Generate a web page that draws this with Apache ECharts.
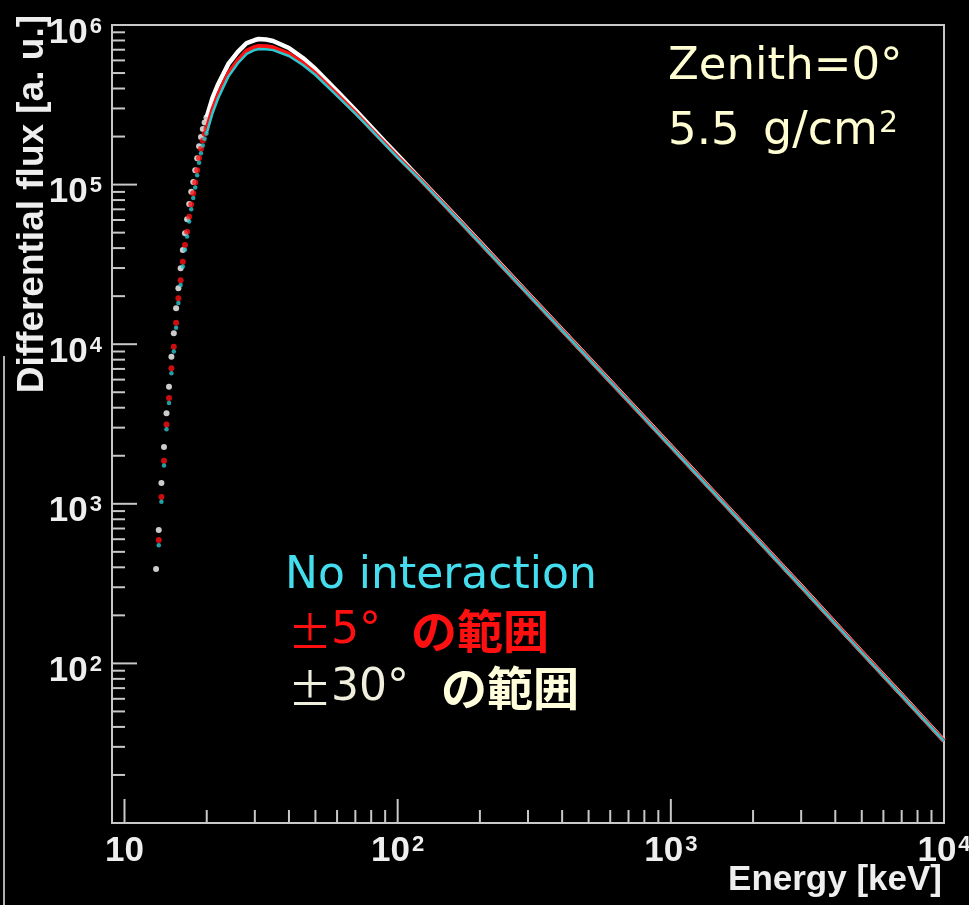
<!DOCTYPE html>
<html>
<head>
<meta charset="utf-8">
<script src="https://cdn.jsdelivr.net/npm/echarts@6/dist/echarts.min.js"></script>
<style>
  html, body { margin: 0; padding: 0; background: #000; }
  #chart { width: 969px; height: 905px; }
</style>
</head>
<body>
<div id="chart"></div>
<script>
// Energy bins [keV] of the low-energy rise, drawn as separate markers
const dotEnergy = [13.05, 13.35, 13.65, 13.95, 14.25, 14.55, 14.85, 15.15, 15.45, 15.75, 16.05, 16.35,
                   16.65, 16.95, 17.25, 17.55, 17.85, 18.15, 18.45, 18.75, 19.05, 19.35, 19.65, 19.95];
// Differential flux [a.u.] in those bins
const dots30 = [390, 685, 1350, 2270, 3690, 5420, 8350, 11700, 16800, 22400, 29900, 38900,
                49500, 60600, 75600, 90300, 104000, 123000, 146000, 174000, 199000, 223000, 245000, 263000];
const dots5 = [null, 593, 1104, 1862, 3140, 4600, 7060, 9640, 13650, 19400, 25200, 32900,
               41900, 50700, 62900, 75000, 88300, 103000, 123000, 147000, 168000, 189000, 208000, 223000];
const dotsNoInt = [null, 550, 1030, 1740, 2930, 4280, 6580, 9000, 12700, 18100, 23500, 30700,
                   39100, 47300, 58700, 70000, 82400, 96000, 114500, 137000, 157000, 176000, 194000, 209000];

// Energies [keV] of the continuous part of the spectra
const lineEnergy = [20, 21, 22, 23, 24, 26, 28, 30, 31, 33, 35, 40, 45, 50, 60, 70, 80, 90, 100,
                    120, 150, 200, 300, 500, 700, 1000, 2000, 3000, 5000, 7000, 10000];
const line30 = [266000, 349000, 424000, 493000, 570000, 678000, 771000, 805000, 817000, 811000, 794000,
                718000, 621000, 530000, 385000, 293000, 229500, 185000, 153000,
                110000, 73600, 43600, 20800, 8180, 4420, 2300, 643, 305, 118, 63.5, 32.8];
const line5 = [225000, 298000, 366000, 429000, 500000, 603000, 691000, 729000, 739000, 737000, 725000,
               662000, 578000, 498000, 367000, 282000, 222000, 180000, 149000,
               109000, 73000, 43300, 20700, 8150, 4400, 2290, 640, 304, 117.5, 63.2, 32.7];
const lineNoInt = [211000, 280000, 346000, 408000, 475000, 576000, 660000, 698000, 707000, 705000, 696000,
                   639000, 561000, 486000, 360000, 278000, 220000, 178000, 147500,
                   108500, 72800, 43200, 20600, 8120, 4390, 2280, 638, 303, 117, 63, 32.6];

// Axis ticks
const xMajorTicks = [10, 100, 1000, 10000];
const xMinorTicks = [20, 30, 40, 50, 60, 70, 80, 90, 200, 300, 400, 500, 600, 700, 800, 900,
                     2000, 3000, 4000, 5000, 6000, 7000, 8000, 9000];
const yMajorTicks = [10, 100, 1000, 10000, 100000, 1000000];
const yMinorTicks = [20, 30, 40, 50, 60, 70, 80, 90, 200, 300, 400, 500, 600, 700, 800, 900,
                     2000, 3000, 4000, 5000, 6000, 7000, 8000, 9000,
                     20000, 30000, 40000, 50000, 60000, 70000, 80000, 90000,
                     200000, 300000, 400000, 500000, 600000, 700000, 800000, 900000];

const X_MIN = 9, X_MAX = 10000, Y_MIN = 10, Y_MAX = 1000000;
const FRAME = '#c8c8c8';
const LABEL = '#eeeeee';

function pairs(xs, ys) {
  return xs.map((x, i) => (ys[i] == null ? null : [x, ys[i]])).filter(Boolean);
}

function decadeLabel(minExp) {
  return function (v) {
    const lg = Math.log10(v);
    const e = Math.round(lg);
    if (Math.abs(lg - e) > 1e-6 || e < minExp) return '';
    return e === 1 ? '{b|10}' : '{b|10}{s|' + e + '}';
  };
}

const labelRich = {
  b: { fontFamily: 'Liberation Sans', fontWeight: 'bold', fontSize: 35, lineHeight: 35,
       color: LABEL, padding: [16, 0, 0, 0] },
  s: { fontFamily: 'Liberation Sans', fontWeight: 'bold', fontSize: 22, lineHeight: 22,
       color: LABEL, padding: [8, 0, 0, 2], verticalAlign: 'top' }
};

// Log-axis tick marks drawn inward from the frame
function tickItem(dir, len) {
  return function (params, api) {
    const p = api.coord([api.value(0), api.value(1)]);
    const shape = dir === 'x'
      ? { x1: p[0], y1: p[1], x2: p[0], y2: p[1] - len }
      : { x1: p[0], y1: p[1], x2: p[0] + len, y2: p[1] };
    return { type: 'line', shape: shape, style: { stroke: FRAME, lineWidth: 2 } };
  };
}
function tickSeries(dir, values, len) {
  return {
    type: 'custom', silent: true, clip: false, z: 6,
    renderItem: tickItem(dir, len),
    data: values.map(v => (dir === 'x' ? [v, Y_MIN] : [X_MIN, v]))
  };
}

const chart = echarts.init(document.getElementById('chart'), null, { renderer: 'canvas' });

chart.setOption({
  backgroundColor: '#000000',
  animation: false,
  grid: {
    left: 112, right: 25, top: 25, bottom: 82,
    show: true, borderColor: FRAME, borderWidth: 2, backgroundColor: 'transparent',
    containLabel: false, outerBoundsMode: 'none'
  },
  xAxis: {
    type: 'log', logBase: 10, min: X_MIN, max: X_MAX,
    axisLine: { show: false }, axisTick: { show: false }, splitLine: { show: false },
    axisLabel: {
      margin: 3, showMinLabel: true, showMaxLabel: true,
      formatter: decadeLabel(1), rich: labelRich
    }
  },
  yAxis: {
    type: 'log', logBase: 10, min: Y_MIN, max: Y_MAX,
    axisLine: { show: false }, axisTick: { show: false }, splitLine: { show: false },
    axisLabel: {
      margin: 10, showMinLabel: true, showMaxLabel: true,
      formatter: decadeLabel(2), rich: labelRich
    }
  },
  series: [
    { type: 'line', name: '±30°', data: pairs(lineEnergy, line30), symbol: 'none',
      lineStyle: { color: '#ffffff', width: 4.5 }, z: 2 },
    { type: 'line', name: '±5°', data: pairs(lineEnergy, line5), symbol: 'none',
      lineStyle: { color: '#ff1010', width: 4 }, z: 3 },
    { type: 'line', name: 'No interaction', data: pairs(lineEnergy, lineNoInt), symbol: 'none',
      lineStyle: { color: '#2cc8d0', width: 2.5 }, z: 4 },
    { type: 'scatter', name: '±30° dots', data: pairs(dotEnergy, dots30), symbol: 'circle',
      symbolSize: 6, itemStyle: { color: '#ffffff' }, z: 2 },
    { type: 'scatter', name: '±5° dots', data: pairs(dotEnergy, dots5), symbol: 'circle',
      symbolSize: 6, itemStyle: { color: '#ff1010' }, z: 3 },
    { type: 'scatter', name: 'No interaction dots', data: pairs(dotEnergy, dotsNoInt), symbol: 'circle',
      symbolSize: 4.5, itemStyle: { color: '#2cc8d0' }, z: 4 },
    tickSeries('x', xMajorTicks, 24),
    tickSeries('x', xMinorTicks, 13),
    tickSeries('y', yMajorTicks, 25),
    tickSeries('y', yMinorTicks, 13)
  ],
  graphic: [
    { type: 'line', silent: true, shape: { x1: 4, y1: 356, x2: 4, y2: 905 },
      style: { stroke: '#b0b0b0', lineWidth: 2 } },
    { type: 'text', x: 33, y: 15, rotation: Math.PI / 2,
      style: { text: 'Differential flux [a. u.]', font: 'bold 37px "Liberation Sans"', fill: LABEL,
               align: 'right', textAlign: 'right', verticalAlign: 'middle', textVerticalAlign: 'middle' } },
    { type: 'text', x: 942, y: 880,
      style: { text: 'Energy [keV]', font: 'bold 35px "Liberation Sans"', fill: LABEL,
               align: 'right', textAlign: 'right', verticalAlign: 'middle', textVerticalAlign: 'middle' } },
    { type: 'text', x: 668, y: 67,
      style: { text: 'Zenith=0°', font: '45px "DejaVu Sans"', fill: '#fffed2',
               verticalAlign: 'middle', textVerticalAlign: 'middle' } },
    { type: 'text', x: 668, y: 132,
      style: { text: '5.5', font: '45px "DejaVu Sans"', fill: '#fffed2',
               verticalAlign: 'middle', textVerticalAlign: 'middle' } },
    { type: 'text', x: 763, y: 132,
      style: { text: 'g/cm', font: '46px "DejaVu Sans"', fill: '#fffed2',
               verticalAlign: 'middle', textVerticalAlign: 'middle' } },
    { type: 'text', x: 879, y: 124,
      style: { text: '2', font: '30px "DejaVu Sans"', fill: '#fffed2',
               verticalAlign: 'middle', textVerticalAlign: 'middle' } },
    { type: 'text', x: 285, y: 577,
      style: { text: 'No interaction', font: '44px "DejaVu Sans"', fill: '#44ddee',
               verticalAlign: 'middle', textVerticalAlign: 'middle' } },
    { type: 'text', x: 288, y: 632,
      style: { text: '±', font: '44px "Noto Sans CJK JP"', fill: '#ff1010',
               verticalAlign: 'middle', textVerticalAlign: 'middle' } },
    { type: 'text', x: 331, y: 632,
      style: { text: '5°', font: '44px "DejaVu Sans"', fill: '#ff1010',
               verticalAlign: 'middle', textVerticalAlign: 'middle' } },
    { type: 'text', x: 411, y: 631,
      style: { text: 'の範囲', font: 'bold 46px "Noto Sans CJK JP"', fill: '#ff1010',
               verticalAlign: 'middle', textVerticalAlign: 'middle' } },
    { type: 'text', x: 288, y: 689,
      style: { text: '±', font: '44px "Noto Sans CJK JP"', fill: '#f0eedc',
               verticalAlign: 'middle', textVerticalAlign: 'middle' } },
    { type: 'text', x: 331, y: 689,
      style: { text: '30°', font: '44px "DejaVu Sans"', fill: '#f0eedc',
               verticalAlign: 'middle', textVerticalAlign: 'middle' } },
    { type: 'text', x: 441, y: 688,
      style: { text: 'の範囲', font: 'bold 46px "Noto Sans CJK JP"', fill: '#ffffdc',
               verticalAlign: 'middle', textVerticalAlign: 'middle' } }
  ]
});
</script>
</body>
</html>
